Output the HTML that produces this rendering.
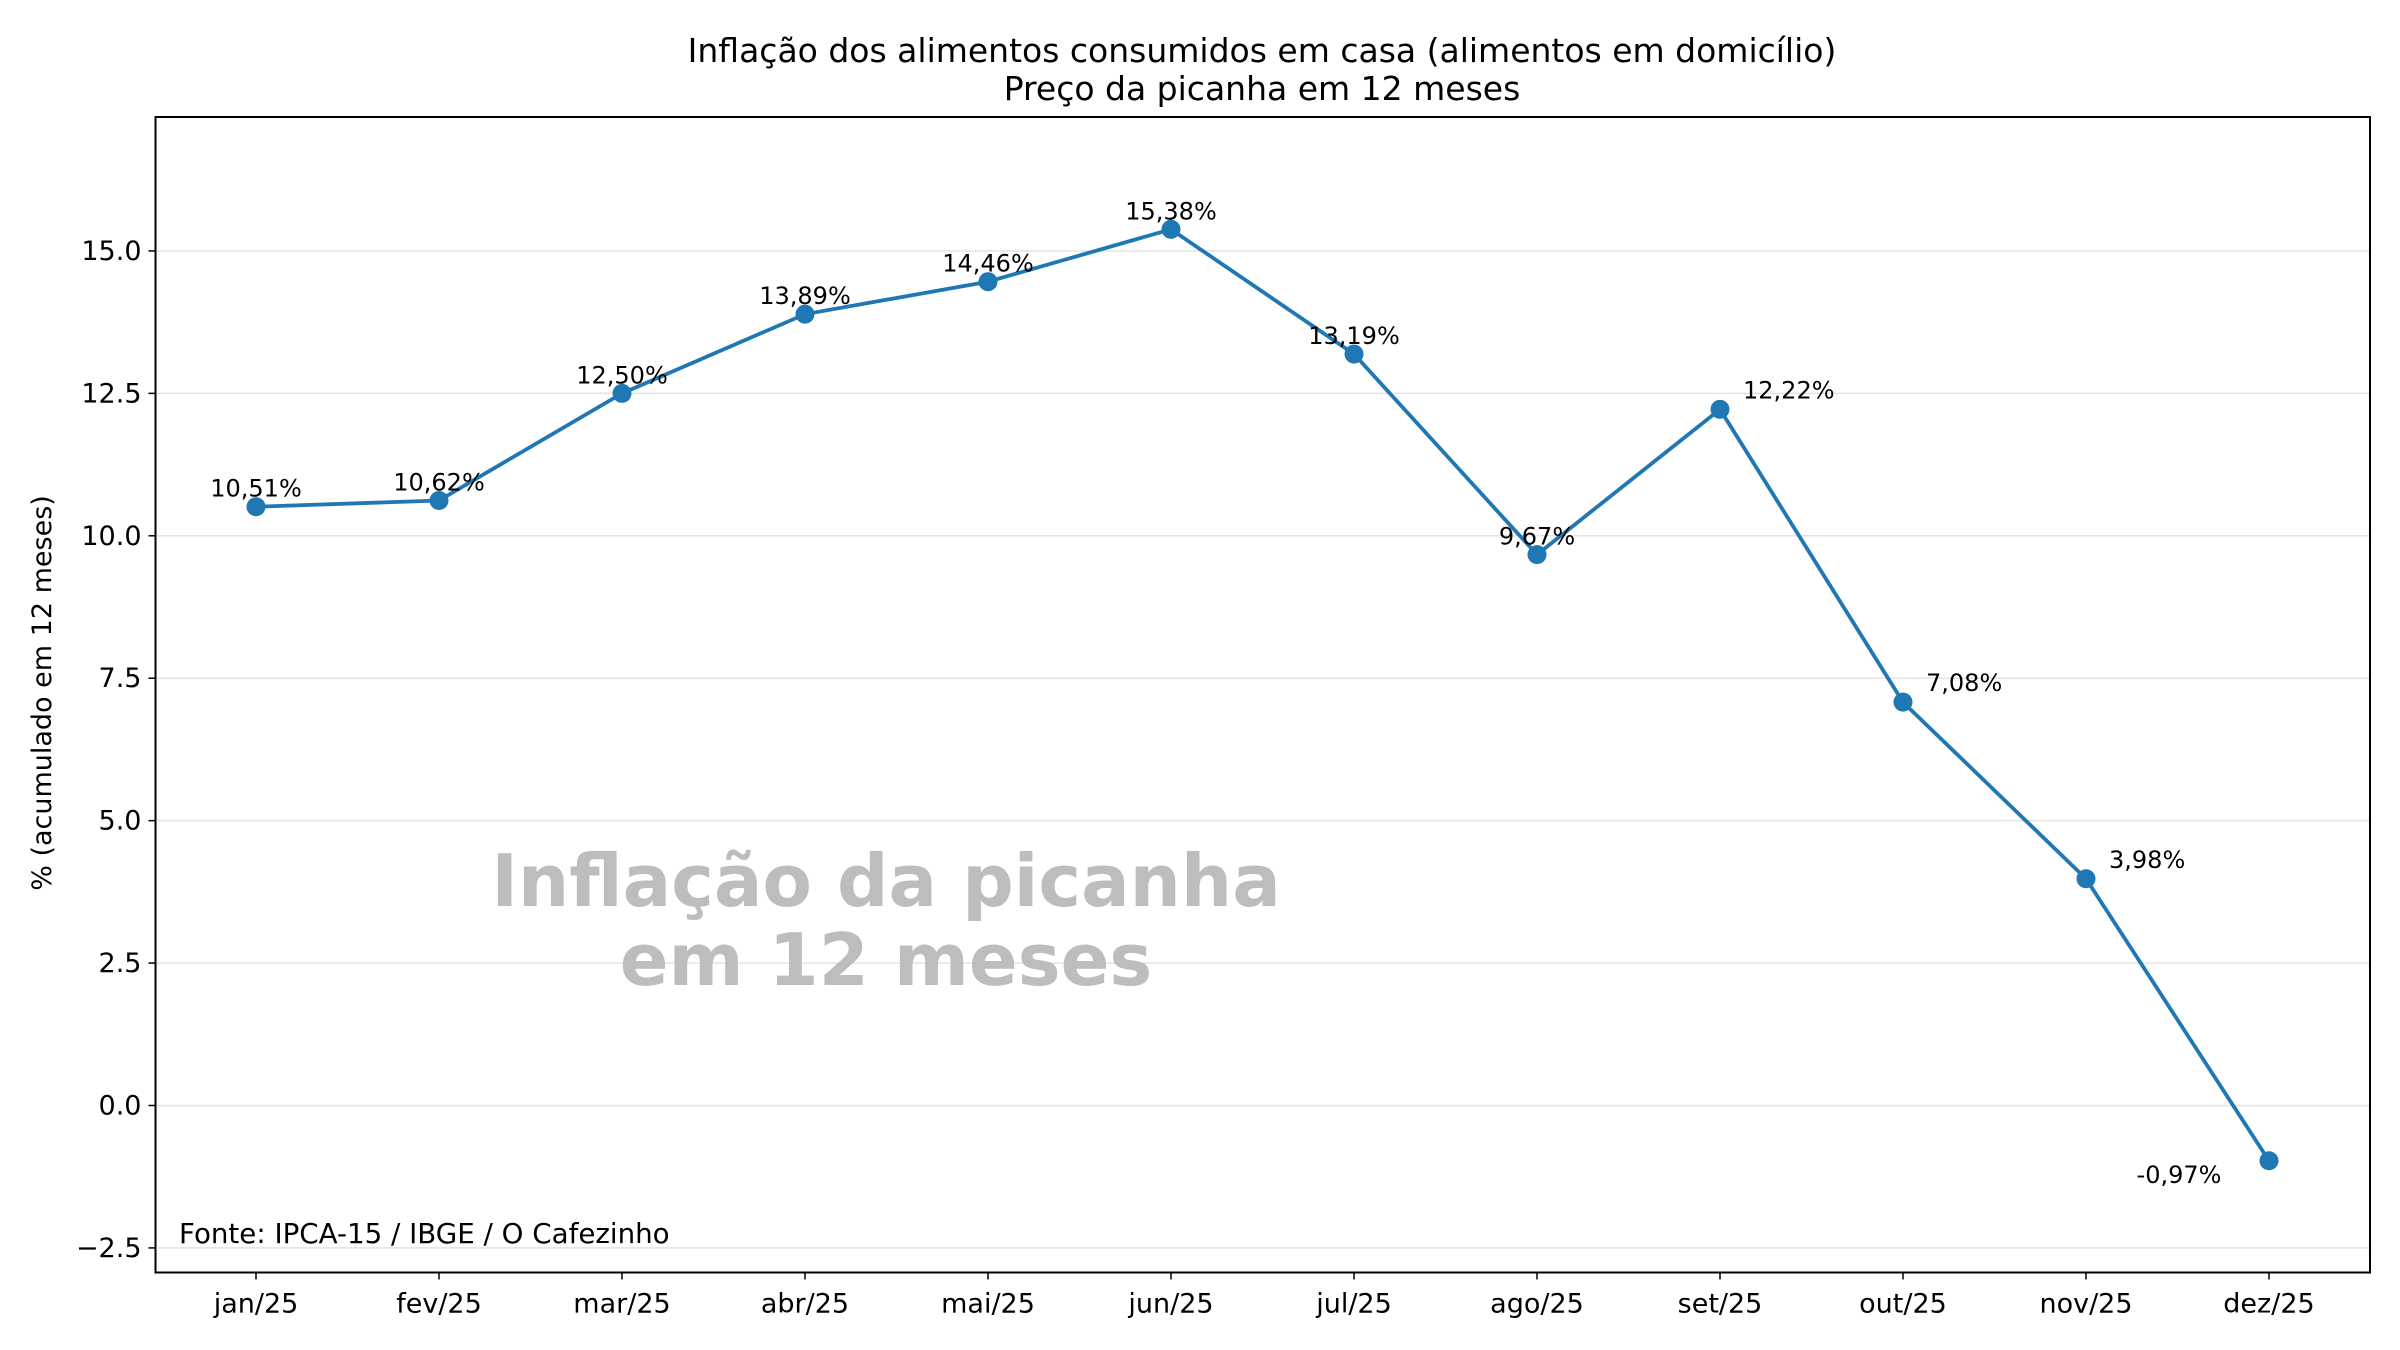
<!DOCTYPE html>
<html><head><meta charset="utf-8"><style>
html,body{margin:0;padding:0;background:#fff;}
svg{display:block;font-family:"DejaVu Sans","Liberation Sans",sans-serif;}
</style></head><body>
<svg id="chart" width="2400" height="1350" viewBox="0 0 2400 1350">
<text x="1262" y="62" text-anchor="middle" font-size="33" fill="#000">Inflação dos alimentos consumidos em casa (alimentos em domicílio)</text>
<text x="1262" y="100" text-anchor="middle" font-size="33" fill="#000">Preço da picanha em 12 meses</text>
<g id="grid"></g>
<text x="886" y="906" text-anchor="middle" font-size="72" font-weight="bold" fill="#bdbdbd">Inflação da picanha</text>
<text x="886" y="985" text-anchor="middle" font-size="72" font-weight="bold" fill="#bdbdbd">em 12 meses</text>
<g id="series"></g>
<g id="axes"></g>
<text x="179" y="1243" font-size="27.7" fill="#000">Fonte: IPCA-15 / IBGE / O Cafezinho</text>
<text transform="translate(51,693) rotate(-90)" text-anchor="middle" font-size="27" fill="#000">% (acumulado em 12 meses)</text>
</svg>
<script>
const categories = ["jan/25","fev/25","mar/25","abr/25","mai/25","jun/25","jul/25","ago/25","set/25","out/25","nov/25","dez/25"];
const values = [10.51,10.62,12.50,13.89,14.46,15.38,13.19,9.67,12.22,7.08,3.98,-0.97];
const valueLabels = ["10,51%","10,62%","12,50%","13,89%","14,46%","15,38%","13,19%","9,67%","12,22%","7,08%","3,98%","-0,97%"];
const yTicks = [-2.5,0,2.5,5,7.5,10,12.5,15];
const yTickLabels = ["−2.5","0.0","2.5","5.0","7.5","10.0","12.5","15.0"];

const NS="http://www.w3.org/2000/svg";
const L=155.5,R=2370,T=117,B=1272.5;
const y0=1105.5, yUnit=56.97;
function yScale(v){return y0 - v*yUnit;}
function xScale(i){return 256 + i*183.0;}
function mk(tag,attrs,parent){const e=document.createElementNS(NS,tag);for(const k in attrs)e.setAttribute(k,attrs[k]);parent.appendChild(e);return e;}
const grid=document.getElementById('grid'), series=document.getElementById('series'), axes=document.getElementById('axes');

yTicks.forEach((t,i)=>{
  const y=yScale(t);
  const g=mk('line',{x1:L,x2:R,y1:y,y2:y,stroke:'#e3e3e3','stroke-width':1.5},grid);
  
  
  const tk=mk('line',{x1:L-7,x2:L,y1:y,y2:y,stroke:'#000','stroke-width':1.5},axes);
  
  
  const tl=mk('text',{x:L-14,y:y+9,'text-anchor':'end','font-size':27,fill:'#000'},axes);
  tl.textContent=yTickLabels[i];
  
  
});
categories.forEach((c,i)=>{
  const x=xScale(i);
  const tk=mk('line',{x1:x,x2:x,y1:B,y2:B+7,stroke:'#000','stroke-width':1.5},axes);
  
  
  const tl=mk('text',{x:x,y:B+40,'text-anchor':'middle','font-size':27,fill:'#000'},axes);
  tl.textContent=c;
  
  
});
const frame=mk('rect',{x:L,y:T,width:R-L,height:B-T,fill:'none',stroke:'#000','stroke-width':2},axes);



const pts=values.map((v,i)=>xScale(i)+','+yScale(v)).join(' ');
const line=mk('polyline',{points:pts,fill:'none',stroke:'#1f77b4','stroke-width':3.8,'stroke-linejoin':'round'},series);


values.forEach((v,i)=>{
  const x=xScale(i),y=yScale(v);
  const c=mk('circle',{cx:x,cy:y,r:9.5,fill:'#1f77b4'},series);
  
  
  let tx=x,ty=y-10,anchor='middle';
  if(i>=8 && i<=10){tx=x+23;ty=y-11;anchor='start';}
  if(i===11){tx=x-90;ty=y+22;anchor='middle';}
  const t=mk('text',{x:tx,y:ty,'text-anchor':anchor,'font-size':24,fill:'#000'},series);
  t.textContent=valueLabels[i];
  
  
});
</script>
</body></html>
